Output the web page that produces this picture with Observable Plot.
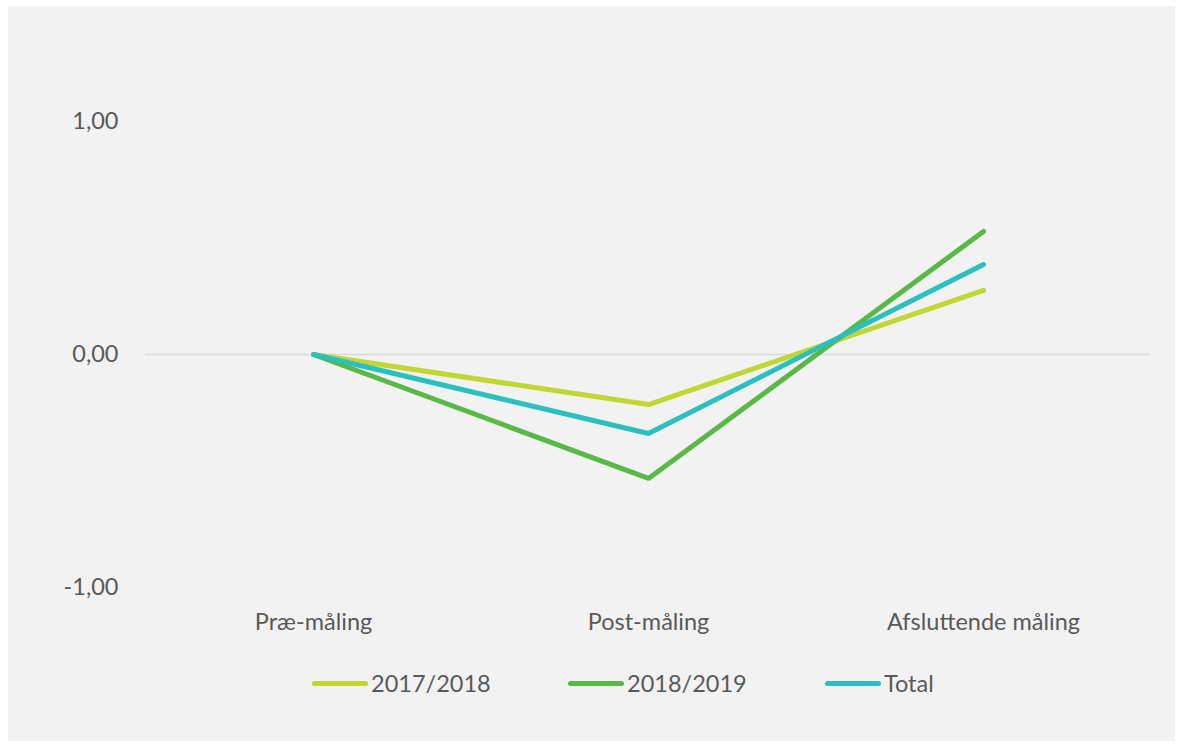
<!DOCTYPE html>
<html>
<head>
<meta charset="utf-8">
<script src="https://cdn.jsdelivr.net/npm/d3@7"></script>
<script src="https://cdn.jsdelivr.net/npm/@observablehq/plot@0.6"></script>
<style>
  html, body { margin: 0; padding: 0; background: #ffffff; }
  #panel { position: absolute; left: 8px; top: 6px; width: 1167px; height: 735px; background: #f2f2f2; font-family: Lato, "Open Sans", sans-serif; }
  #legend { position: absolute; top: 663px; left: 0; width: 1167px; height: 28px; font-size: 23.5px; color: #595959; }
  .item { position: absolute; display: flex; align-items: center; }
  .sw { width: 56px; height: 5px; border-radius: 3px; margin-right: 3px; }
</style>
</head>
<body>
<div id="panel"><div id="chart"></div><div id="legend"></div></div>
<script>
const categories = ["Præ-måling", "Post-måling", "Afsluttende måling"];
const seriesNames = ["2017/2018", "2018/2019", "Total"];
const colors = ["#bfd730", "#58b947", "#2bbfbf"];
const values2017 = [0, -0.215, 0.275];
const values2018 = [0, -0.532, 0.528];
const valuesTotal = [0, -0.339, 0.386];
const yTicks = [-1, 0, 1];

const allValues = [values2017, values2018, valuesTotal];
const data = [];
seriesNames.forEach((s, i) => categories.forEach((c, j) => data.push({series: s, cat: c, value: allValues[i][j]})));

const chart = Plot.plot({
  width: 1167,
  height: 636,
  marginTop: 115,
  marginBottom: 55,
  marginLeft: 137,
  marginRight: 25,
  style: {background: "transparent", fontFamily: "Lato, 'Open Sans', sans-serif", fontSize: "23.5px", color: "#595959"},
  x: {type: "point", domain: categories, padding: 0.5, label: null, tickSize: 0, tickPadding: 26},
  y: {domain: [-1, 1], ticks: yTicks, tickFormat: d => d3.format(".2f")(d).replace(".", ",").replace("−", "-"), label: null, tickSize: 0, tickPadding: 27},
  color: {domain: seriesNames, range: colors},
  marks: [
    Plot.ruleY([0], {stroke: "#d9d9d9", strokeWidth: 1.3}),
    Plot.line(data, {x: "cat", y: "value", z: "series", stroke: "series", strokeWidth: 5, strokeLinecap: "round", strokeLinejoin: "miter"})
  ]
});
chart.querySelectorAll("text").forEach(t => t.setAttribute("fill", "#595959"));
document.getElementById("chart").appendChild(chart);

const legendX = [304, 560, 817];
const legend = document.getElementById("legend");
seriesNames.forEach((s, i) => {
  const it = document.createElement("div");
  it.className = "item";
  it.style.left = legendX[i] + "px";
  it.innerHTML = `<div class="sw" style="background:${colors[i]}"></div><span>${s}</span>`;
  legend.appendChild(it);
});
</script>
</body>
</html>
